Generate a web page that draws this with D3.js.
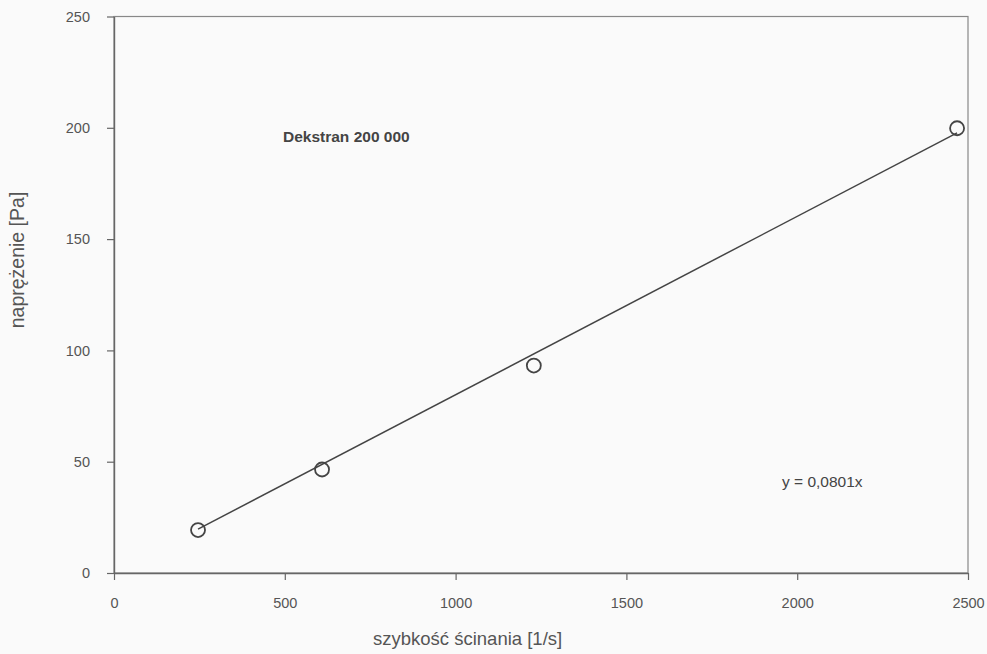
<!DOCTYPE html>
<html>
<head>
<meta charset="utf-8">
<script src="https://cdn.jsdelivr.net/npm/d3@7"></script>
<style>
  body { margin: 0; background: #fafafa; }
  svg { display: block; font-family: "Liberation Sans", Arial, sans-serif; }
</style>
</head>
<body>
<svg id="chart"></svg>
<script>
// shear rate [1/s] vs stress [Pa], Dextran 200 000
const shearRate = [246, 609, 1229, 2468];
const stress = [19.3, 46.5, 93.2, 199.8];
const xTicks = [0, 500, 1000, 1500, 2000, 2500];
const yTicks = [0, 50, 100, 150, 200, 250];
const slope = 0.0801;

const width = 987, height = 654;
const margin = {top: 16.5, right: 19, bottom: 81, left: 114};

const svg = d3.select("#chart")
  .attr("width", width)
  .attr("height", height);

svg.append("rect")
  .attr("width", width).attr("height", height)
  .attr("fill", "#fafafa");

const x = d3.scaleLinear().domain([0, 2500]).range([margin.left, width - margin.right]);
const y = d3.scaleLinear().domain([0, 250]).range([height - margin.bottom, margin.top]);

const axisColor = "#666";
const tickFont = "14.5px";

// frame
svg.append("rect")
  .attr("x", x(0)).attr("y", y(250))
  .attr("width", x(2500) - x(0)).attr("height", y(0) - y(250))
  .attr("fill", "none")
  .attr("stroke", "#888")
  .attr("stroke-width", 1.2);

var drawAxis = (g, tx, ty, axis) =>
  g.attr("transform", `translate(${tx},${ty})`)
  .call(axis)
  .call(g => g.select(".domain").attr("stroke", axisColor).attr("stroke-width", 1.4))
  .call(g => g.selectAll(".tick line").attr("stroke", axisColor).attr("stroke-width", 1.2))
  .call(g => g.selectAll(".tick text")
        .attr("fill", "#555")
        .attr("font-size", tickFont)
        .attr("font-family", "Liberation Sans, Arial, sans-serif"));

svg.append("g").call(g => drawAxis(g, 0, y(0),
  d3.axisBottom(x).tickValues(xTicks).tickFormat(d3.format("d"))
    .tickSize(7).tickPadding(18).tickSizeOuter(0)));
svg.append("g").call(g => drawAxis(g, x(0), 0,
  d3.axisLeft(y).tickValues(yTicks).tickFormat(d3.format("d"))
    .tickSize(7).tickPadding(17).tickSizeOuter(0)));

// trend line y = 0.0801x
const xr = d3.extent(shearRate);
svg.append("line")
  .attr("x1", x(xr[0])).attr("y1", y(slope * xr[0]))
  .attr("x2", x(xr[1])).attr("y2", y(slope * xr[1]))
  .attr("stroke", "#444")
  .attr("stroke-width", 1.5);

// points
svg.selectAll(".pt")
  .data(shearRate.map((d, i) => ({x: d, y: stress[i]})))
  .join("circle")
  .attr("class", "pt")
  .attr("cx", d => x(d.x))
  .attr("cy", d => y(d.y))
  .attr("r", 7)
  .attr("fill", "none")
  .attr("stroke", "#444")
  .attr("stroke-width", 1.8);

// annotations
svg.append("text")
  .attr("x", 283).attr("y", 142)
  .attr("font-size", "15.5px")
  .attr("font-weight", "bold")
  .attr("fill", "#444")
  .text("Dekstran 200 000");

svg.append("text")
  .attr("x", 782).attr("y", 487)
  .attr("font-size", "15.5px")
  .attr("fill", "#444")
  .text("y = 0,0801x");

// axis titles
svg.append("text")
  .attr("x", 373).attr("y", 645)
  .attr("font-size", "18.5px")
  .attr("fill", "#555")
  .text("szybkość ścinania [1/s]");

svg.append("text")
  .attr("transform", "translate(24,260) rotate(-90)")
  .attr("text-anchor", "middle")
  .attr("font-size", "19.5px")
  .attr("fill", "#555")
  .text("naprężenie [Pa]");
</script>
</body>
</html>
